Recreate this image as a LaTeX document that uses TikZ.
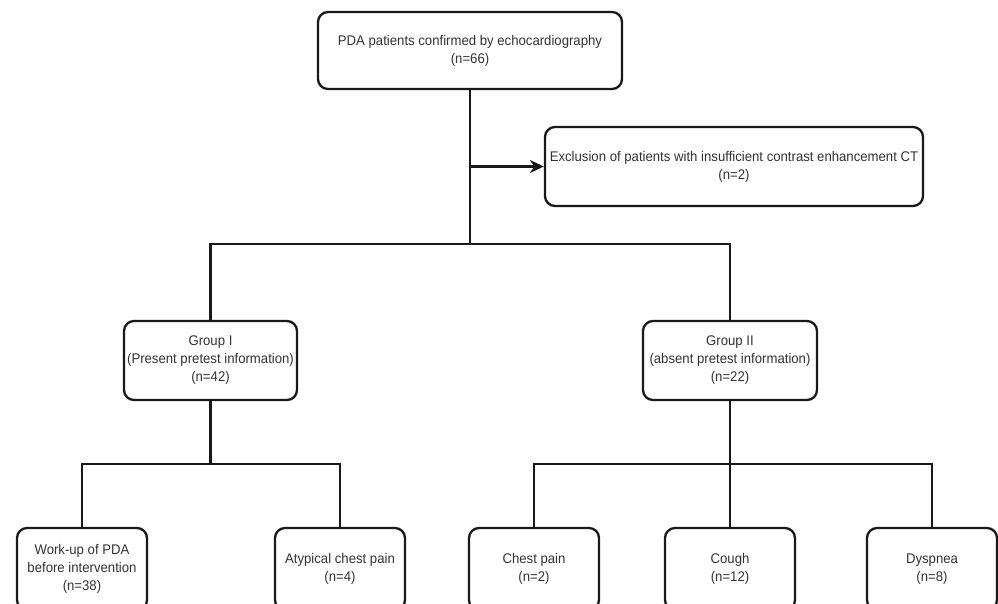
\documentclass[tikz,border=0pt]{standalone}
\usepackage{fontspec}
\setmainfont{Liberation Sans}[FakeStretch=0.94]
\usetikzlibrary{arrows.meta}
\begin{document}
\begin{tikzpicture}[x=1pt,y=-1pt,
  box/.style={draw=black!90, line width=2.3pt, rounded corners=10pt, align=center,
    font=\fontsize{14}{18}\selectfont, text=black!80, inner sep=0pt, fill=white},
  conn/.style={draw=black!90, line width=2.3pt},
  smallbox/.style={box, minimum width=130pt, minimum height=82pt}]
\clip (0,0) rectangle (998,603);
\useasboundingbox (0,0) rectangle (998,603);
% nodes
\node[box, minimum width=304pt, minimum height=77pt] (top) at (470,50.5)
  {PDA patients confirmed by echocardiography\\(n=66)};
\node[box, minimum width=378pt, minimum height=79pt] (excl) at (734,166.5)
  {Exclusion of patients with insufficient contrast enhancement CT\\(n=2)};
\node[box, minimum width=173pt, minimum height=79pt] (g1) at (210.5,360.5)
  {Group I\\(Present pretest information)\\(n=42)};
\node[box, minimum width=174pt, minimum height=79pt] (g2) at (730,360.5)
  {Group II\\(absent pretest information)\\(n=22)};
\node[smallbox] (wu) at (82,569) {Work-up of PDA\\before intervention\\(n=38)};
\node[smallbox] (at) at (340,569) {Atypical chest pain\\(n=4)};
\node[smallbox] (cp) at (534,569) {Chest pain\\(n=2)};
\node[smallbox] (co) at (730,569) {Cough\\(n=12)};
\node[smallbox] (dy) at (932,569) {Dyspnea\\(n=8)};
% connectors
\coordinate (j1) at (470,244);
\draw[conn] (top.south) -- (j1);
\draw[conn, -{Stealth[length=14pt,width=13pt]}] (top.south |- excl.west) -- (excl.west);
\draw[conn] (g1.north) -- (g1.north |- j1) -- (g2.north |- j1) -- (g2.north);
\draw[conn] (g1.south) -- ++(0,63) coordinate (j2);
\draw[conn] (wu.north) -- (wu.north |- j2) -- (at.north |- j2) -- (at.north);
\draw[conn] (g2.south) -- (co.north);
\draw[conn] (cp.north) -- (cp.north |- j2) -- (dy.north |- j2) -- (dy.north);
\end{tikzpicture}
\end{document}
